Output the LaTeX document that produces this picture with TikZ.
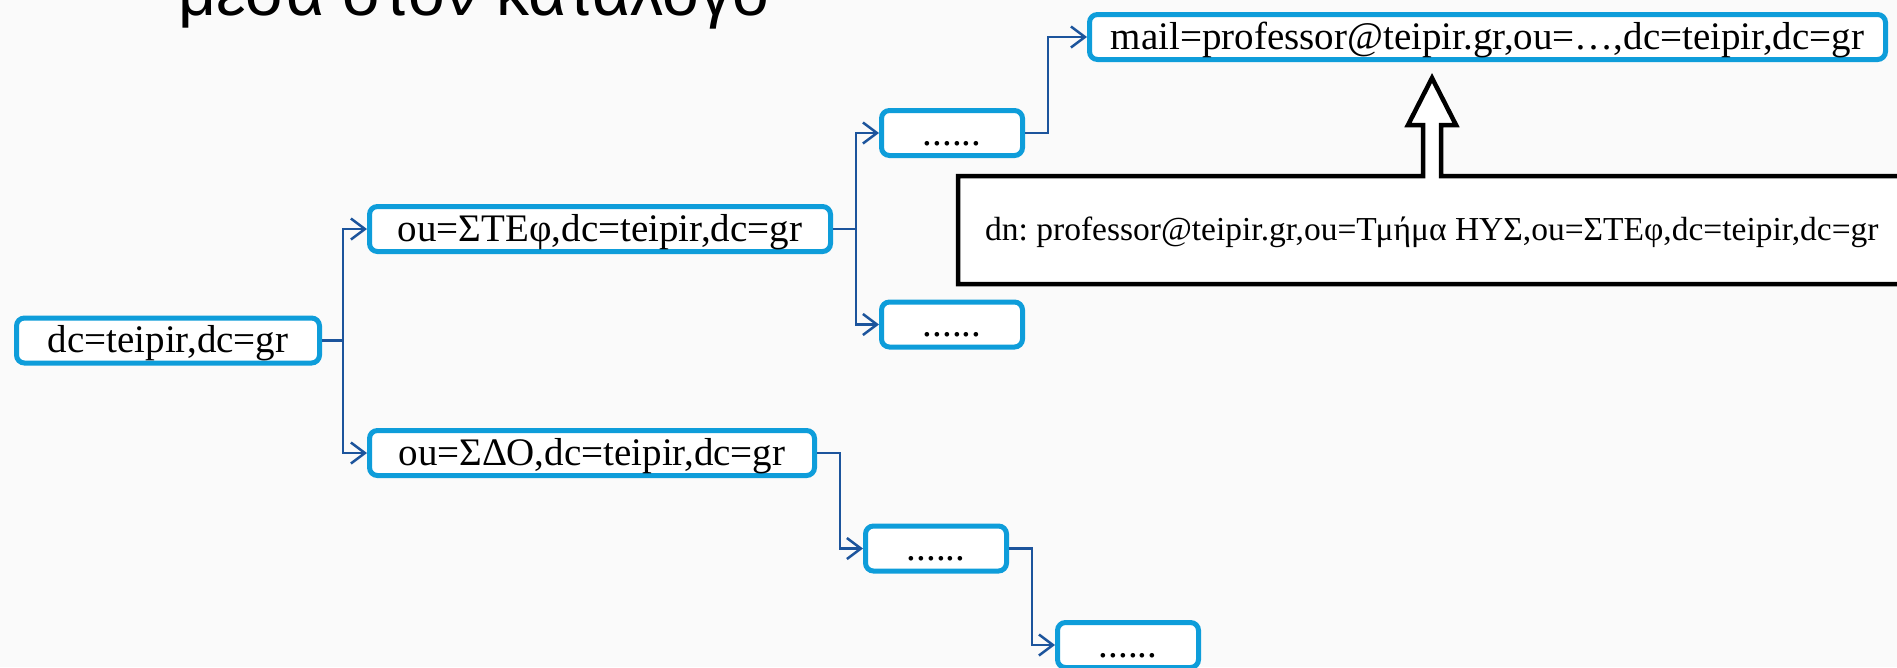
\documentclass[tikz,border=0pt]{standalone}
\usepackage{fontspec}
\setmainfont{Liberation Serif}
\newfontfamily\titlefont{Liberation Sans}
\usetikzlibrary{arrows.meta,calc}
\definecolor{boxblue}{RGB}{14,157,218}
\definecolor{linkblue}{RGB}{28,84,156}
\definecolor{bgcol}{RGB}{250,250,250}
\frenchspacing
\begin{document}
\begin{tikzpicture}[x=1pt,y=-1pt,
  entry/.style={draw=boxblue, line width=5pt, rounded corners=8pt, fill=white,
    minimum height=45pt, inner sep=0pt, text height=28pt, text depth=4pt,
    font=\fontsize{39}{44}\selectfont},
  link/.style={draw=linkblue, line width=2.5pt, line join=miter,
    -{Straight Barb[length=14pt,width=21pt]}},
  callout/.style={draw=black, line width=4.5pt, fill=white, line join=miter}
]
\useasboundingbox (0,0) rectangle (1897,667);
\fill[bgcol] (0,0) rectangle (1897,667);
\clip (0,0) rectangle (1897,667);

\node[anchor=base west, inner sep=0pt, font=\titlefont\fontsize{66}{74}\selectfont] (title) at (178,15) {μέσα στον κατάλογο};

\node[entry, minimum width=303pt] (root) at (168,340.5) {dc=teipir,dc=gr};
\node[entry, minimum width=461pt] (stef) at (600,229) {ou=ΣΤΕφ,dc=teipir,dc=gr};
\node[entry, minimum width=445pt] (sdo) at (592,453) {ou=ΣΔΟ,dc=teipir,dc=gr};
\node[entry, minimum width=141pt] (d1) at (952,133) {......};
\node[entry, minimum width=141pt] (d2) at (952,324.5) {......};
\node[entry, minimum width=141pt] (d3) at (936,548.5) {......};
\node[entry, minimum width=141pt] (d4) at (1128,645) {......};
\node[entry, minimum width=796pt] (mail) at (1487.5,37) {mail=professor@teipir.gr,ou=\dots,dc=teipir,dc=gr};

\draw[link] (root.east) -- ++(21,0) |- (stef.west);
\draw[link] (root.east) -- ++(21,0) |- (sdo.west);
\draw[link] (stef.east) -- ++(23,0) |- (d1.west);
\draw[link] (stef.east) -- ++(23,0) |- (d2.west);
\draw[link] (d1.east) -- ++(23,0) |- (mail.west);
\draw[link] (sdo.east) -- ++(23,0) |- (d3.west);
\draw[link] (d3.east) -- ++(23,0) |- (d4.west);

\draw[callout] (958,176) -- (1423,176) -- (1423,125) -- (1408,125) -- (1432,78)
  -- (1456,125) -- (1441,125) -- (1441,176) -- (1915,176) -- (1915,284)
  -- (958,284) -- cycle;
\node[anchor=base west, inner sep=0pt, font=\fontsize{33.5}{38}\selectfont] (dn) at (985,240)
  {dn: professor@teipir.gr,ou=Τμήμα ΗΥΣ,ou=ΣΤΕφ,dc=teipir,dc=gr};
\end{tikzpicture}
\end{document}
